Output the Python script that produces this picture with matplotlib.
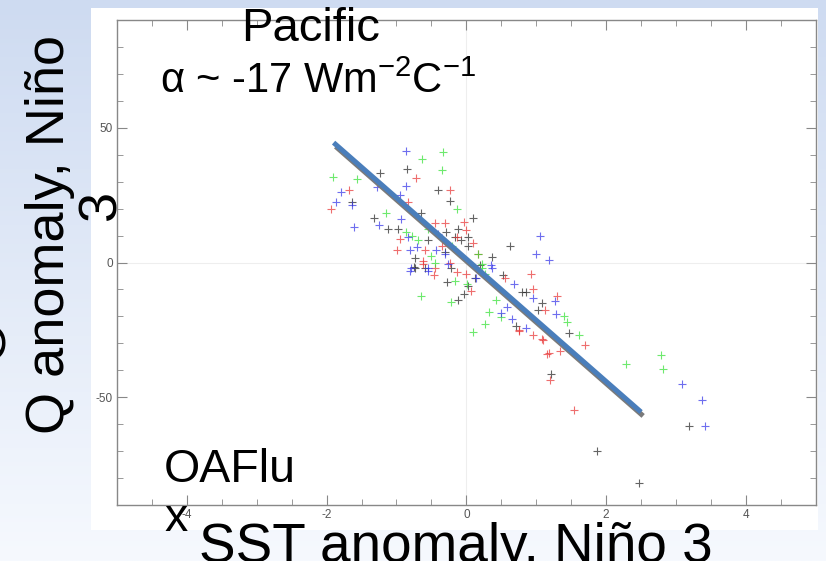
import numpy as np
import matplotlib
matplotlib.use('Agg')
import matplotlib.pyplot as plt
import matplotlib.patheffects as pe
from matplotlib.ticker import MultipleLocator

plt.rcParams['font.family'] = ['Liberation Sans', 'DejaVu Sans']
plt.rcParams['mathtext.fontset'] = 'custom'
plt.rcParams['mathtext.rm'] = 'Liberation Sans'
plt.rcParams['axes.unicode_minus'] = False

# SST anomaly (C) / Q anomaly (W m-2) pairs, one list per colour
black_x = [-0.85, -1.24, -0.40, -1.63, -0.24, -0.65, -1.32, 0.10, -1.12, -0.98, -0.12, -0.29,
           -0.07, 0.03, -0.55, -0.73, 0.36, -0.73, -0.22, -0.27, -0.12, -0.04, -0.75, 0.03,
           0.63, 0.52, 0.79, 0.85, 1.08, 1.02, 0.71, 0.13, 0.03, -0.16, -0.59, 1.47, 1.21,
           3.18, 1.87, 2.47, -0.30, 0.20]
black_y = [34.6, 33.4, 27.1, 22.3, 23.0, 18.2, 16.4, 16.4, 12.3, 12.6, 12.6, 11.2,
           8.2, 9.3, 8.2, 1.5, 1.9, -1.9, -1.9, -7.4, -13.8, -11.5, -1.5, -8.6,
           6.3, -4.8, -10.8, -10.8, -14.9, -17.5, -23.4, -5.6, 6.3, 9.3, -1.9, -26.0, -41.3,
           -60.6, -69.9, -81.8, 4.0, -1.0]

red_x = [-0.72, -1.68, -0.23, -1.94, -0.83, -0.45, -0.30, -0.04, -0.01, -0.14, 0.10, -0.95,
         -0.99, -0.59, -0.62, -0.45, -0.46, -0.62, -0.14, 0.06, 0.92, 0.55, 0.96, 1.12,
         0.75, 0.96, 1.08, 1.18, 0.17, 0.00, -0.23, 1.29, 1.70, 1.34, 1.15, 1.09, 0.76,
         1.19, 1.54, -0.35]
red_y = [31.2, 27.1, 26.8, 19.7, 22.3, 14.5, 14.5, 14.9, 11.9, 9.3, 7.1, 8.9,
         4.8, 4.5, 0.7, -1.9, -4.5, -0.4, -3.7, -10.4, -4.1, -5.9, -9.7, -17.5,
         -24.9, -26.8, -28.3, -33.5, 3.3, -4.1, 0.0, -12.3, -30.5, -32.7, -33.8, -28.6, -25.3,
         -43.5, -54.6, 6.0]

green_x = [-0.33, -0.63, -0.35, -1.91, -1.57, -0.14, -1.15, -0.86, -0.78, -0.69, -0.50, 0.17,
           -0.65, -0.22, 0.10, -0.16, 0.27, 0.32, 0.27, 0.50, 0.42, 0.01, 0.23, 0.23,
           -0.45, 1.40, 1.44, 1.61, 2.29, 2.78, 2.82, -0.55, -0.20]
green_y = [40.9, 38.3, 34.2, 31.7, 30.9, 19.7, 18.2, 11.5, 10.0, 8.2, 2.6, 3.3,
           -12.3, -14.5, -25.7, -6.7, -4.1, -18.2, -23.0, -20.1, -13.8, -7.8, -1.9, -0.4,
           0.0, -19.7, -21.9, -26.8, -37.5, -34.2, -39.4, 12.5, 6.0]

blue_x = [-0.86, -0.86, -1.80, -0.95, -1.86, -1.63, -0.94, -1.25, -1.61, -0.83, -0.81, -0.71,
          -0.43, -0.30, 0.36, -0.79, -0.55, -1.28, -0.81, -0.55, 1.05, 0.99, 1.18, 0.68,
          0.95, 1.27, 1.28, 0.49, 0.65, 0.86, 0.14, 0.35, -0.26, 3.08, 3.37, 3.42, 0.58, -0.40]
blue_y = [41.3, 28.3, 26.0, 24.9, 22.3, 21.2, 16.0, 13.8, 13.0, 9.3, 4.8, 5.6,
          4.5, 3.3, -1.9, -1.9, -1.9, 27.9, -3.0, -3.0, 10.0, 3.3, 1.1, -7.8,
          -13.0, -14.1, -19.0, -18.6, -20.8, -24.2, -5.9, -1.1, -0.4, -45.0, -50.9, -60.6, -16.5, 10.5]

# regression line drawn over the scatter
fit_x = [-1.9, 2.5]
fit_y = [44.5, -55.5]

fig = plt.figure(figsize=(8.26, 5.61), dpi=100)

# slide background gradient
bg = fig.add_axes([0, 0, 1, 1], zorder=-10)
t = np.linspace(0, 1, 200)[:, None] * np.ones((1, 300))
top = np.array([206, 219, 241]) / 255
bot = np.array([246, 249, 254]) / 255
img = top[None, None, :] * (1 - t[..., None]) + bot[None, None, :] * t[..., None]
bg.imshow(img, aspect='auto', extent=[0, 1, 0, 1])
bg.axis('off')

# white picture panel
fig.patches.append(plt.Rectangle((0.110, 0.055), 0.880, 0.931, transform=fig.transFigure,
                                 facecolor='white', edgecolor='none', zorder=-5))

ax = fig.add_axes([0.1416, 0.0998, 0.846, 0.8645])
ax.set_facecolor('white')
ax.axhline(0, color='#eeeeee', lw=0.8, zorder=0)
ax.axvline(0, color='#eeeeee', lw=0.8, zorder=0)

kw = dict(marker='+', s=34, linewidths=0.8, alpha=0.7)
ax.scatter(black_x, black_y, color='#222222', **kw)
ax.scatter(red_x, red_y, color='#e83030', **kw)
ax.scatter(green_x, green_y, color='#30e030', **kw)
ax.scatter(blue_x, blue_y, color='#3030e8', **kw)

ax.plot(fit_x, fit_y, color='#4a7ebb', lw=3.6, solid_capstyle='butt',
        path_effects=[pe.SimpleLineShadow(offset=(1.5, -2.8), shadow_color='#7a7a7a', alpha=1),
                      pe.Normal()])

ax.set_xlim(-5, 5)
ax.set_ylim(-90, 90)
ax.xaxis.set_major_locator(MultipleLocator(2))
ax.xaxis.set_minor_locator(MultipleLocator(0.5))
ax.yaxis.set_major_locator(MultipleLocator(50))
ax.yaxis.set_minor_locator(MultipleLocator(10))
ax.tick_params(which='both', direction='in', top=True, right=True, colors='#888888',
               labelcolor='#555555', labelsize=8.5, pad=3)
ax.tick_params(which='major', length=7)
ax.tick_params(which='minor', length=4)
for s in ax.spines.values():
    s.set_color('#888888')
    s.set_linewidth(1)

# slide text laid over the picture
fig.text(311 / 826, 1 - 29 / 561, 'Pacific', fontsize=34, ha='center', va='center')
fig.text(160 / 826, 1 - 82 / 561, r'α ~ -17 Wm$^{-2}$C$^{-1}$', fontsize=30, ha='left', va='center')
fig.text(50 / 826, 1 - 235 / 561, 'Q anomaly, Niño', fontsize=39, rotation=90, ha='center', va='center')
fig.text(102 / 826, 1 - 205 / 561, '3', fontsize=39, rotation=90, ha='center', va='center')
fig.text(-10 / 826, 1 - 340 / 561, 'O', fontsize=39, rotation=90, ha='center', va='center')
fig.text(164 / 826, 1 - 470 / 561, 'OAFlu', fontsize=33.5, ha='left', va='center')
fig.text(164 / 826, 1 - 519 / 561, 'x', fontsize=33.5, ha='left', va='center')
fig.text(456 / 826, 1 - 548 / 561, 'SST anomaly, Niño 3', fontsize=39.5, ha='center', va='center')

plt.savefig('out.png', dpi=100)
